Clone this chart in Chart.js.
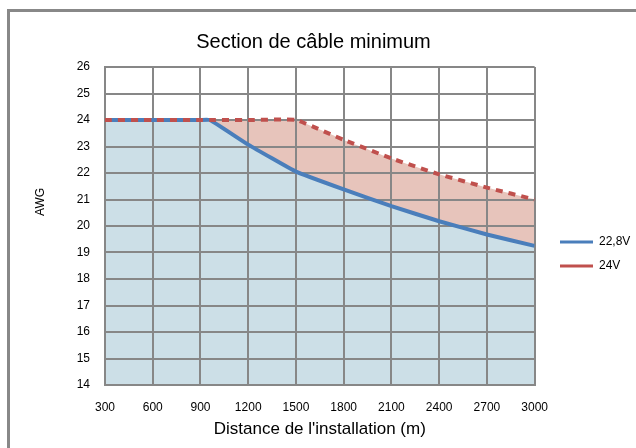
<!DOCTYPE html>
<html lang="fr">
<head>
<meta charset="utf-8">
<title>Section de câble minimum</title>
<script src="https://cdn.jsdelivr.net/npm/chart.js@4.4.0/dist/chart.umd.min.js"></script>
<style>
  html, body { margin: 0; padding: 0; background: #fff; }
  #cadre { position: relative; width: 636px; height: 448px; overflow: hidden; }
  #cadre canvas { position: absolute; left: 0; top: 0; }
  #bord { position: absolute; left: 7px; top: 9px; width: 700px; height: 500px;
          border-left: 3px solid #888; border-top: 3px solid #888; pointer-events: none; }
</style>
</head>
<body>
<div id="cadre">
  <canvas id="graficoCable" width="636" height="448"></canvas>
  <div id="bord"></div>
</div>
<script>
// distances (m) et section AWG
const distances = [300, 600, 900, 960, 1200, 1500, 1800, 2100, 2400, 2700, 3000];
const awg228V = [24, 24, 24, 24, 23.07, 22.05, 21.38, 20.75, 20.18, 19.68, 19.25];
const awg24V = [24, 24, 24, 24, 24, 24, 23.25, 22.55, 21.95, 21.45, 21.0];
const seriesLabels = ['22,8V', '24V'];
const xTicks = [300, 600, 900, 1200, 1500, 1800, 2100, 2400, 2700, 3000];
const yTicks = [14, 15, 16, 17, 18, 19, 20, 21, 22, 23, 24, 25, 26];

const police = '"Liberation Sans", Arial, sans-serif';
const gris = '#878787';

Chart.defaults.font.family = police;
Chart.defaults.color = '#000';

const points = (vals) => distances.map((d, i) => ({ x: d, y: vals[i] }));

// place la légende comme dans l'original
const posLegende = {
  id: 'posLegende',
  afterLayout(chart) {
    const lg = chart.legend;
    const w = lg.width;
    lg.left = 548;
    lg.right = lg.left + w;
    lg.top = 224;
    lg.bottom = lg.top + 60;
  }
};

const titreAxeY = {
  id: 'titreAxeY',
  afterDraw(chart) {
    const ctx = chart.ctx;
    ctx.save();
    ctx.translate(41, 202);
    ctx.rotate(-Math.PI / 2);
    ctx.font = '12px ' + police;
    ctx.fillStyle = '#000';
    ctx.textAlign = 'center';
    ctx.textBaseline = 'middle';
    ctx.fillText('AWG', 0, 0);
    ctx.restore();
  }
};

// le jeu 24V est en index 0 (dessiné au-dessus), rempli jusqu'à la courbe 22,8V
const grafico = new Chart(document.getElementById('graficoCable'), {
  type: 'line',
  data: {
    datasets: [
      {
        label: seriesLabels[1],
        data: points(awg24V),
        borderColor: '#C0504D',
        backgroundColor: '#E7C4BB',
        borderWidth: 4,
        borderDash: [7, 6],
        fill: '+1',
        pointRadius: 0,
        tension: 0.1
      },
      {
        label: seriesLabels[0],
        data: points(awg228V),
        borderColor: '#4A7EBB',
        backgroundColor: '#CCDFE7',
        borderWidth: 4,
        fill: 'start',
        pointRadius: 0,
        tension: 0.1
      }
    ]
  },
  options: {
    responsive: false,
    animation: false,
    devicePixelRatio: 1,
    layout: { padding: { left: 0, top: 0, right: 9, bottom: 0 } },
    plugins: {
      filler: { drawTime: 'beforeDraw' },
      tooltip: { enabled: false },
      title: {
        display: true,
        text: 'Section de câble minimum',
        color: '#000',
        font: { size: 20, weight: 'normal' },
        padding: { top: 30, bottom: 13 }
      },
      legend: {
        position: 'right',
        align: 'start',
        labels: {
          usePointStyle: true,
          pointStyle: 'line',
          pointStyleWidth: 33,
          padding: 12,
          color: '#000',
          font: { size: 12 },
          generateLabels: (chart) => Chart.defaults.plugins.legend.labels.generateLabels(chart)
            .map(it => ({ ...it, lineWidth: 3 }))
            .sort((a, b) => b.datasetIndex - a.datasetIndex)
        }
      }
    },
    scales: {
      x: {
        type: 'linear',
        min: xTicks[0],
        max: xTicks[xTicks.length - 1],
        afterBuildTicks: (scale) => { scale.ticks = xTicks.map(v => ({ value: v })); },
        ticks: {
          padding: 15, maxRotation: 0, autoSkip: false, font: { size: 12 },
          callback: (v) => String(v)
        },
        grid: { color: gris, lineWidth: 2, drawTicks: false },
        border: { color: gris, width: 2 },
        title: {
          display: true,
          text: "Distance de l'installation (m)",
          font: { size: 17 },
          padding: { top: 0, bottom: 8 }
        },
        afterFit: (scale) => { scale.height = 63; }
      },
      y: {
        min: yTicks[0],
        max: yTicks[yTicks.length - 1],
        afterBuildTicks: (scale) => { scale.ticks = yTicks.map(v => ({ value: v })); },
        ticks: { padding: 15, font: { size: 12 }, callback: (v) => String(v) },
        grid: { color: gris, lineWidth: 2, drawTicks: false },
        border: { color: gris, width: 2 },
        afterFit: (scale) => { scale.width = 105; }
      }
    }
  },
  plugins: [posLegende, titreAxeY]
});
</script>
</body>
</html>
